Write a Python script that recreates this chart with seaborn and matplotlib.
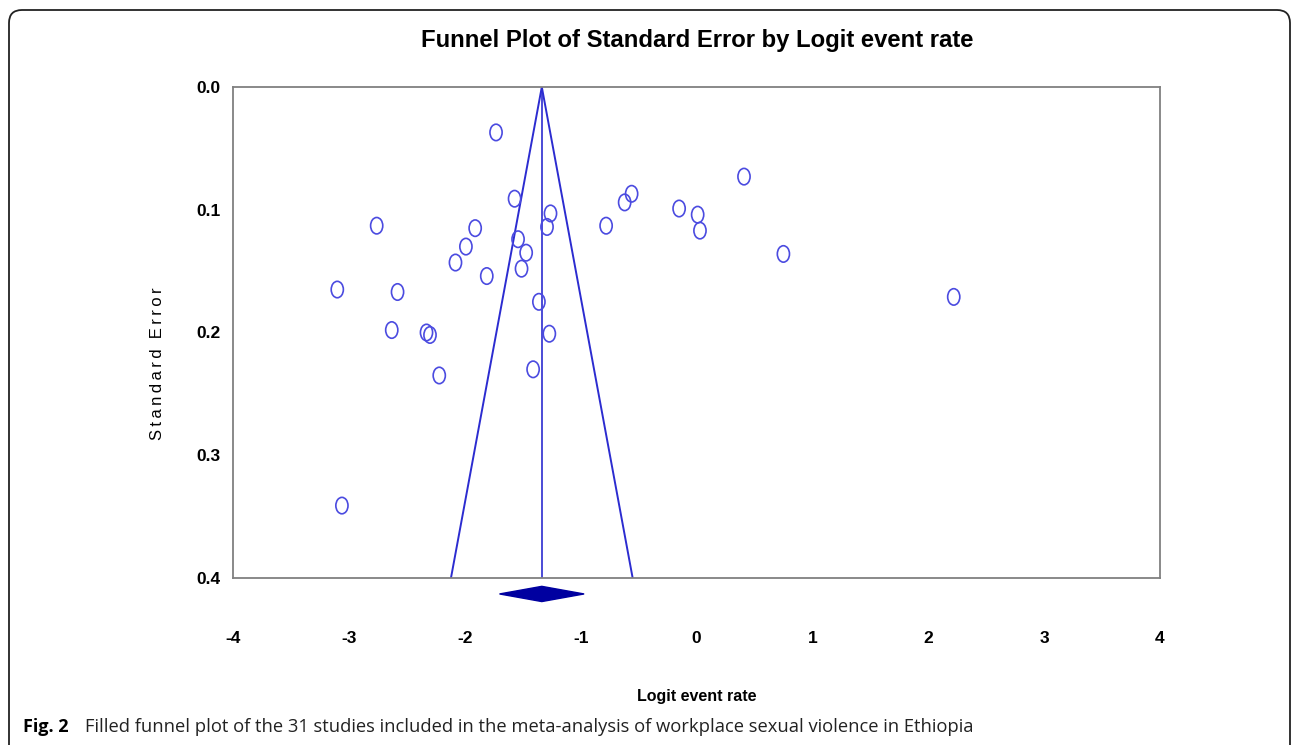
import numpy as np
import pandas as pd
import seaborn as sns
import matplotlib
matplotlib.use("Agg")
from matplotlib import pyplot as plt
from matplotlib.path import Path
from matplotlib.markers import MarkerStyle
from matplotlib.patches import FancyBboxPatch
from matplotlib.transforms import Affine2D

# study estimates
logitRate = [-1.73, -1.57, -2.76, -1.91, -1.26, -1.29, -1.54, -1.99, -1.47, -2.08,
             -1.51, -1.81, -3.10, -2.58, -1.36, -2.63, -2.33, -2.30, -1.27, -2.22,
             -1.41, -3.06, -0.78, -0.62, -0.56, -0.15, 0.01, 0.03, 0.41, 0.75, 2.22]
stdError = [0.037, 0.091, 0.113, 0.115, 0.103, 0.114, 0.124, 0.130, 0.135, 0.143,
            0.148, 0.154, 0.165, 0.167, 0.175, 0.198, 0.200, 0.202, 0.201, 0.235,
            0.230, 0.341, 0.113, 0.094, 0.087, 0.099, 0.104, 0.117, 0.073, 0.136, 0.171]

# pooled estimate and its confidence interval
pooledRate = -1.335
pooledLow = -1.70
pooledHigh = -0.97

xTicks = [-4, -3, -2, -1, 0, 1, 2, 3, 4]
yTicks = [0.0, 0.1, 0.2, 0.3, 0.4]

sns.set_style("white")
plt.rcParams['font.family'] = ['Liberation Sans', 'DejaVu Sans']
plt.rcParams['text.color'] = 'black'
plt.rcParams['xtick.color'] = 'black'
plt.rcParams['ytick.color'] = 'black'

W, H = 1296, 745
fig = plt.figure(figsize=(W / 100, H / 100), dpi=100)
ax = fig.add_axes([233 / W, 1 - 578 / H, 927 / W, 491 / H])

df = pd.DataFrame({'Logit event rate': logitRate, 'Standard Error': stdError})

ellipse = Path.unit_circle().transformed(Affine2D().scale(0.74, 1.0))
sns.scatterplot(data=df, x='Logit event rate', y='Standard Error', ax=ax,
                marker=MarkerStyle(ellipse), s=140, facecolor='none',
                edgecolor='#4b4be0', linewidth=1.2, zorder=3)

lineColor = '#2c2cd0'
seMax = 0.4
ax.plot([pooledRate, pooledRate], [0, seMax], color=lineColor, lw=1.2, zorder=2)
ax.plot([pooledRate - 1.96 * seMax, pooledRate, pooledRate + 1.96 * seMax],
        [seMax, 0, seMax], color=lineColor, lw=1.4, zorder=2)

# pooled diamond below the axis
dY = 0.413
dH = 0.0062
ax.fill([pooledLow, pooledRate, pooledHigh, pooledRate],
        [dY, dY - dH, dY, dY + dH], color='#0000a0', clip_on=False, zorder=4)

ax.set_xlim(-4, 4)
ax.set_ylim(0.4, 0.0)
ax.set_xticks(xTicks)
ax.set_yticks(yTicks)
ax.set_xticklabels([str(t) for t in xTicks])
ax.set_yticklabels(['%.1f' % t for t in yTicks])
ax.set_xlabel('')
ax.set_ylabel('')
ax.tick_params(axis='x', direction='in', length=6, width=1, color='#555555',
               pad=38, labelsize=12.5)
ax.tick_params(axis='y', direction='in', length=4, width=1, color='#555555',
               pad=9, labelsize=12.5)
for lab in ax.get_xticklabels() + ax.get_yticklabels():
    lab.set_fontweight('bold')
for sp in ax.spines.values():
    sp.set_visible(True)
    sp.set_color('#808080')
    sp.set_linewidth(1.3)

fig.text(697 / W, 1 - 40 / H, 'Funnel Plot of Standard Error by Logit event rate',
         ha='center', va='center', fontsize=17.2, fontweight='bold')
fig.text(158 / W, 1 - 364 / H, '\u2009'.join('Standard') + '\u2009\u2009\u2009' + '\u2009'.join('Error'),
         rotation=90, ha='center', va='center', fontsize=12)
fig.text(697 / W, 1 - 696 / H, 'Logit event rate', ha='center', va='center',
         fontsize=11.5, fontweight='bold')

fig.text(23 / W, 1 - 727 / H, 'Fig. 2', ha='left', va='center', fontsize=13,
         fontweight='bold', family=['Open Sans', 'DejaVu Sans'])
fig.text(85 / W, 1 - 727 / H,
         'Filled funnel plot of the 31 studies included in the meta-analysis of workplace sexual violence in Ethiopia',
         ha='left', va='center', fontsize=13.2, color='#222222',
         family=['Open Sans', 'DejaVu Sans'])

frame = FancyBboxPatch((9 / W, -0.05), 1281 / W, 1 - 10 / H + 0.05,
                       boxstyle='round,pad=0,rounding_size=0.01',
                       transform=fig.transFigure, fill=False,
                       edgecolor='#222222', linewidth=1.3, clip_on=False,
                       mutation_aspect=W / H)
fig.patches.append(frame)

fig.savefig('out.png', dpi=100)
